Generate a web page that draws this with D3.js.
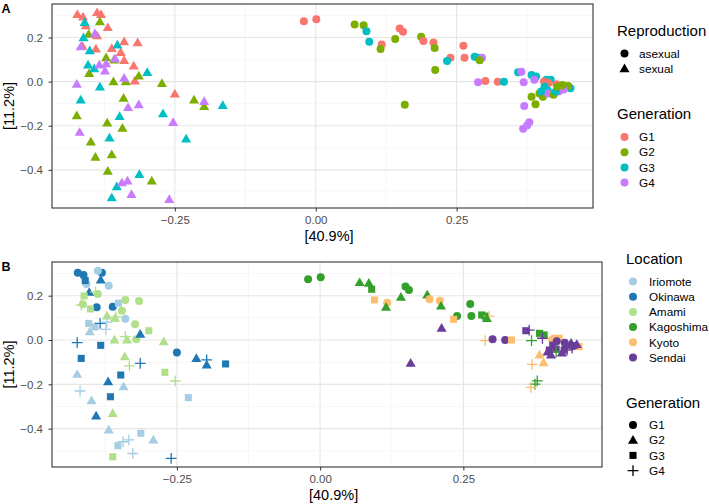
<!DOCTYPE html>
<html>
<head>
<meta charset="utf-8">
<script src="https://cdn.jsdelivr.net/npm/d3@7"></script>
<style>
  body { margin: 0; background: #fff; }
  svg { display: block; font-family: "Liberation Sans", Arial, sans-serif; }
</style>
</head>
<body>
<svg id="chart" width="709" height="504"></svg>
<script>
// ---------------- DATA ----------------
const locations = ["Iriomote", "Okinawa", "Amami", "Kagoshima", "Kyoto", "Sendai"];
const locationColors = ["#A6CEE3", "#1F78B4", "#B2DF8A", "#33A02C", "#FDBF6F", "#6A3D9A"];
const generations = ["G1", "G2", "G3", "G4"];
const generationColors = ["#F8766D", "#7CAE00", "#00BFC4", "#C77CFF"];
const reproductions = ["asexual", "sexual"];
const sexualLocations = ["Iriomote", "Okinawa", "Amami"];
const xTicks = [-0.25, 0.00, 0.25];
const yTicks = [-0.4, -0.2, 0.0, 0.2];
const xLabel = "[40.9%]";
const yLabel = "[11.2%]";

// PC1 / PC2 coordinates of each sample, with its location and generation
const pc1 = [
  -0.423, -0.413, -0.381, -0.388, -0.369, -0.408, -0.390, -0.362, -0.340, -0.316,
  -0.414, -0.346, -0.340, -0.323, -0.321, -0.250, -0.388,
  -0.383, -0.403, -0.372, -0.358, -0.402, -0.314, -0.359, -0.337, -0.273, -0.341,
  -0.216, -0.198, -0.424, -0.370, -0.343, -0.399, -0.391, -0.362, -0.369, -0.291,
  -0.410, -0.412, -0.401, -0.404, -0.352, -0.299, -0.383, -0.417, -0.165, -0.348,
  -0.271, -0.366, -0.230, -0.313, -0.353, -0.362, -0.393,
  -0.417, -0.392, -0.384, -0.374, -0.424, -0.340, -0.314, -0.333, -0.253, -0.419,
  -0.334, -0.344, -0.327, -0.260, -0.198, -0.356, -0.372,
  -0.021, 0.001, 0.069, 0.085, 0.090, 0.095, 0.117, 0.115, 0.141, 0.149,
  0.155, 0.187, 0.191, 0.209, 0.211, 0.239, 0.233, 0.212, 0.158, 0.262,
  0.264, 0.282, 0.288, 0.295, 0.288, 0.301, 0.323, 0.334, 0.359, 0.365,
  0.369, 0.383, 0.391, 0.388, 0.383, 0.390, 0.370, 0.379, 0.375, 0.368,
  0.409, 0.417, 0.405, 0.452, 0.413, 0.427, 0.442, 0.448, 0.406, 0.412,
  0.397, 0.403, 0.412, 0.431, 0.422, 0.440, 0.426, 0.438, 0.429, 0.400,
  0.291
];
const pc2 = [
  0.304, 0.293, 0.304, 0.313, 0.245, 0.253, 0.148, 0.150, 0.181, 0.176,
  0.161, 0.132, 0.096, 0.071, 0.003, -0.056, 0.208,
  0.271, 0.215, 0.108, 0.098, 0.037, 0.026, 0.000, 0.000, -0.008, -0.075,
  -0.083, -0.113, -0.155, -0.188, -0.211, -0.274, -0.343, -0.331, -0.406, -0.451,
  0.268, 0.199, 0.140, 0.075, 0.166, 0.042, -0.024, -0.083, -0.108, -0.158,
  -0.146, -0.256, -0.260, -0.421, -0.477, -0.527, 0.059,
  0.158, 0.217, 0.075, 0.048, -0.012, 0.015, -0.105, -0.117, -0.185, -0.230,
  -0.451, -0.459, -0.512, -0.534, -0.090, 0.104, 0.081,
  0.274, 0.283, 0.259, 0.256, 0.229, 0.181, 0.168, 0.148, 0.193, 0.241,
  0.226, 0.203, 0.184, 0.177, 0.153, 0.108, 0.093, 0.053, -0.105, 0.163,
  0.108, 0.113, 0.108, 0.108, -0.003, 0.003, 0.000, 0.000, 0.042, 0.045,
  -0.003, 0.030, 0.023, 0.008, -0.068, -0.102, -0.110, -0.184, -0.199, -0.214,
  0.008, 0.008, 0.001, -0.030, -0.006, -0.012, -0.027, -0.020, -0.023, -0.041,
  -0.054, -0.068, -0.054, -0.045, -0.059, -0.036, -0.045, -0.015, -0.023, -0.045,
  0.097
];
const loc = [
  "Okinawa","Okinawa","Okinawa","Iriomote","Iriomote","Iriomote","Okinawa","Okinawa","Amami","Amami",
  "Amami","Amami","Iriomote","Amami","Amami","Okinawa","Amami",
  "Okinawa","Okinawa","Amami","Amami","Iriomote","Okinawa","Amami","Amami","Amami","Amami",
  "Okinawa","Okinawa","Iriomote","Okinawa","Iriomote","Iriomote","Okinawa","Amami","Iriomote","Iriomote",
  "Okinawa","Amami","Amami","Iriomote","Iriomote","Amami","Okinawa","Okinawa","Okinawa","Okinawa",
  "Amami","Okinawa","Iriomote","Iriomote","Iriomote","Amami","Iriomote",
  "Amami","Amami","Okinawa","Iriomote","Okinawa","Amami","Okinawa","Amami","Amami","Iriomote",
  "Iriomote","Iriomote","Iriomote","Okinawa","Okinawa","Amami","Iriomote",
  "Kagoshima","Kagoshima","Kagoshima","Kagoshima","Kagoshima","Kyoto","Kyoto","Kagoshima","Kagoshima","Kagoshima",
  "Kagoshima","Kagoshima","Kyoto","Kyoto","Kagoshima","Kagoshima","Kyoto","Sendai","Sendai","Kagoshima",
  "Kagoshima","Kagoshima","Kagoshima","Kyoto","Kyoto","Sendai","Sendai","Kyoto","Sendai","Sendai",
  "Kagoshima","Kagoshima","Kagoshima","Sendai","Kyoto","Kyoto","Kyoto","Kagoshima","Kagoshima","Kyoto",
  "Kyoto","Kyoto","Kyoto","Kyoto","Sendai","Sendai","Sendai","Sendai","Sendai","Sendai",
  "Sendai","Sendai","Kagoshima","Sendai","Sendai","Sendai","Sendai","Sendai","Sendai","Sendai",
  "Kagoshima"
];
const gen = [
  "G1","G1","G1","G1","G1","G1","G1","G1","G1","G1",
  "G1","G1","G1","G1","G1","G1","G1",
  "G2","G2","G2","G2","G2","G2","G2","G2","G2","G2",
  "G2","G2","G2","G2","G2","G2","G2","G2","G2","G2",
  "G3","G3","G3","G3","G3","G3","G3","G3","G3","G3",
  "G3","G3","G3","G3","G3","G3","G3",
  "G4","G4","G4","G4","G4","G4","G4","G4","G4","G4",
  "G4","G4","G4","G4","G4","G4","G4",
  "G1","G1","G2","G2","G3","G3","G1","G2","G2","G1",
  "G1","G2","G1","G1","G2","G1","G3","G2","G2","G1",
  "G1","G3","G3","G4","G4","G1","G1","G3","G3","G4",
  "G4","G3","G3","G4","G2","G2","G4","G4","G4","G4",
  "G3","G3","G1","G3","G1","G1","G1","G2","G3","G3",
  "G2","G2","G4","G4","G2","G4","G3","G2","G2","G3",
  "G2"
];

// ---------------- DRAWING ----------------
const points = pc1.map((x, i) => ({
  x, y: pc2[i], loc: loc[i], gen: gen[i],
  rep: sexualLocations.includes(loc[i]) ? "sexual" : "asexual"
}));

const svg = d3.select("#chart");
const xDomain = [-0.468, 0.492];
const yDomain = [-0.573, 0.352];
const FONT = "'Liberation Sans', Arial, sans-serif";

const locColor = d3.scaleOrdinal().domain(locations).range(locationColors);
const genColor = d3.scaleOrdinal().domain(generations).range(generationColors);

function drawShape(g, shape, cx, cy, color) {
  if (shape === "circle") {
    g.append("circle").attr("cx", cx).attr("cy", cy).attr("r", 4.0).attr("fill", color);
  } else if (shape === "triangle") {
    g.append("path").attr("transform", `translate(${cx},${cy + 0.6})`)
      .attr("d", d3.symbol().type(d3.symbolTriangle).size(44)()).attr("fill", color);
  } else if (shape === "square") {
    g.append("path").attr("transform", `translate(${cx},${cy})`)
      .attr("d", d3.symbol().type(d3.symbolSquare).size(50)()).attr("fill", color);
  } else if (shape === "plus") {
    const h = 5.4;
    g.append("path").attr("d", `M${cx - h},${cy}H${cx + h}M${cx},${cy - h}V${cy + h}`)
      .attr("stroke", color).attr("stroke-width", 1.3).attr("fill", "none");
  }
}
const repShape = d3.scaleOrdinal().domain(reproductions).range(["circle", "triangle"]);
const genShape = d3.scaleOrdinal().domain(generations).range(["circle", "triangle", "square", "plus"]);

function panel(opts) {
  const { left, right, top, bottom, label, colorFn, shapeFn } = opts;
  const x = d3.scaleLinear().domain(xDomain).range([left, right]);
  const y = d3.scaleLinear().domain(yDomain).range([bottom, top]);
  const g = svg.append("g");

  const xMinor = [-0.375, -0.125, 0.125, 0.375];
  const yMinor = [-0.5, -0.3, -0.1, 0.1, 0.3];
  g.selectAll(".xminor").data(xMinor).join("line")
    .attr("x1", d => x(d)).attr("x2", d => x(d)).attr("y1", top).attr("y2", bottom)
    .attr("stroke", "#f2f2f2").attr("stroke-width", 0.6);
  g.selectAll(".yminor").data(yMinor).join("line")
    .attr("y1", d => y(d)).attr("y2", d => y(d)).attr("x1", left).attr("x2", right)
    .attr("stroke", "#f2f2f2").attr("stroke-width", 0.6);
  g.selectAll(".xmajor").data(xTicks).join("line")
    .attr("x1", d => x(d)).attr("x2", d => x(d)).attr("y1", top).attr("y2", bottom)
    .attr("stroke", "#e6e6e6").attr("stroke-width", 1.1);
  g.selectAll(".ymajor").data(yTicks).join("line")
    .attr("y1", d => y(d)).attr("y2", d => y(d)).attr("x1", left).attr("x2", right)
    .attr("stroke", "#e6e6e6").attr("stroke-width", 1.1);

  const pg = g.append("g");
  points.forEach(p => drawShape(pg, shapeFn(p), x(p.x), y(p.y), colorFn(p)));

  g.append("rect").attr("x", left).attr("y", top).attr("width", right - left).attr("height", bottom - top)
    .attr("fill", "none").attr("stroke", "#333333").attr("stroke-width", 1.1);

  const xAxis = d3.axisBottom(x).tickValues(xTicks).tickSize(3.5).tickPadding(4.5);
  const xa = g.append("g").attr("transform", `translate(0,${bottom})`).call(xAxis);
  const yAxis = d3.axisLeft(y).tickValues(yTicks).tickSize(3.5).tickPadding(5.5);
  const ya = g.append("g").attr("transform", `translate(${left},0)`).call(yAxis);
  [xa, ya].forEach(a => {
    a.select(".domain").remove();
    a.selectAll(".tick line").attr("stroke", "#333333").attr("stroke-width", 1);
    a.selectAll(".tick text").attr("fill", "#4d4d4d").attr("font-size", 11.5).attr("font-family", FONT);
  });
  xa.selectAll(".tick text").text(d => d3.format(".2f")(d).replace("-", "\u2212"));
  ya.selectAll(".tick text").text(d => d3.format(".1f")(d).replace("-", "\u2212"));

  svg.append("text").attr("x", x(0.0235)).attr("y", bottom + 33)
    .attr("text-anchor", "middle").attr("font-size", 14.5).attr("font-family", FONT).attr("fill", "#000")
    .text(xLabel);
  svg.append("text").attr("transform", `translate(13.5,${(top + bottom) / 2}) rotate(-90)`)
    .attr("text-anchor", "middle").attr("font-size", 14.5).attr("font-family", FONT).attr("fill", "#000")
    .text(yLabel);
  svg.append("text").attr("x", 1.5).attr("y", top + 8.5).attr("font-size", 12.5).attr("font-weight", "bold")
    .attr("font-family", FONT).text(label);
}

panel({
  left: 52, right: 593, top: 4, bottom: 208, label: "A",
  colorFn: p => genColor(p.gen), shapeFn: p => repShape(p.rep)
});
panel({
  left: 52, right: 602, top: 262, bottom: 467, label: "B",
  colorFn: p => locColor(p.loc), shapeFn: p => genShape(p.gen)
});

function legend(title, x0, yTitle, items, symX, txtX, y0, colorFn, shapeFn) {
  const g = svg.append("g");
  g.append("text").attr("x", x0).attr("y", yTitle).attr("font-size", 15).attr("font-family", FONT).text(title);
  items.forEach((d, i) => {
    const cy = y0 + i * 15.2;
    drawShape(g, shapeFn(d), symX, cy, colorFn(d));
    g.append("text").attr("x", txtX).attr("y", cy + 4.2).attr("font-size", 11.8).attr("font-family", FONT)
      .attr("fill", "#000").text(d);
  });
}
legend("Reproduction", 617, 36, reproductions, 624.5, 639, 53.5, () => "#000", d => repShape(d));
legend("Generation", 617, 119, generations, 624.5, 639, 137, d => genColor(d), () => "circle");
legend("Location", 626, 264, locations, 633, 649, 281.5, d => locColor(d), () => "circle");
legend("Generation", 626, 407.5, generations, 633, 649, 425, () => "#000", d => genShape(d));
</script>
</body>
</html>
